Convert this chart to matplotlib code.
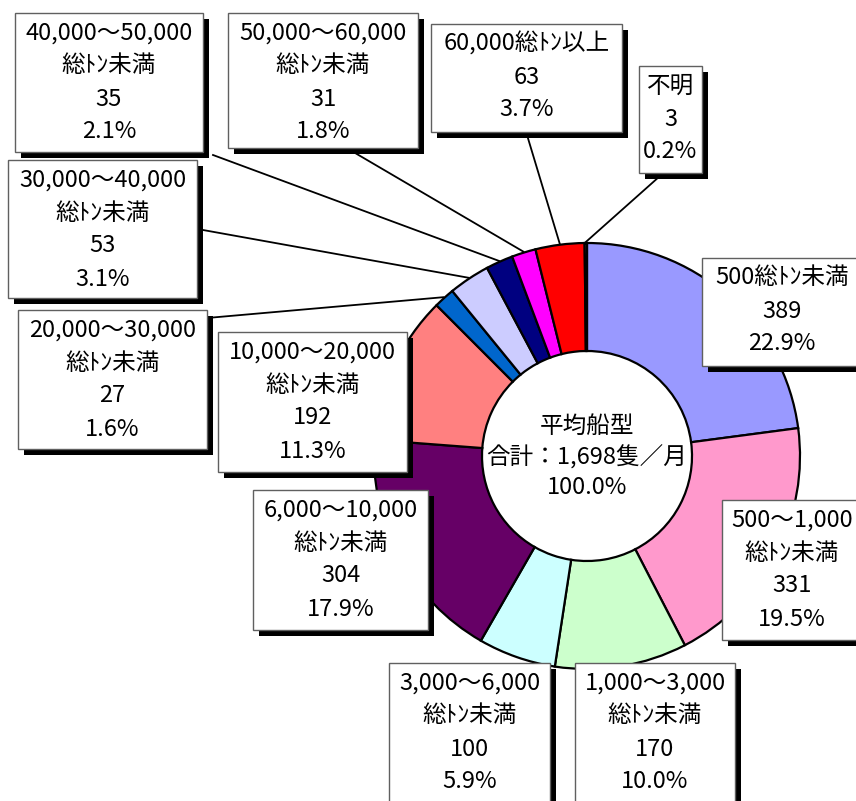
import numpy as np
import matplotlib
matplotlib.use("Agg")
import matplotlib.pyplot as plt
from matplotlib.patches import Rectangle

plt.rcParams['font.family'] = ['Noto Sans CJK JP', 'DejaVu Sans']

# 船型別の平均入港隻数（隻/月）
categories = [
    ["500総ﾄﾝ未満"],
    ["500～1,000", "総ﾄﾝ未満"],
    ["1,000～3,000", "総ﾄﾝ未満"],
    ["3,000～6,000", "総ﾄﾝ未満"],
    ["6,000～10,000", "総ﾄﾝ未満"],
    ["10,000～20,000", "総ﾄﾝ未満"],
    ["20,000～30,000", "総ﾄﾝ未満"],
    ["30,000～40,000", "総ﾄﾝ未満"],
    ["40,000～50,000", "総ﾄﾝ未満"],
    ["50,000～60,000", "総ﾄﾝ未満"],
    ["60,000総ﾄﾝ以上"],
    ["不明"],
]
values = [389, 331, 170, 100, 304, 192, 27, 53, 35, 31, 63, 3]
colors = ["#9999FF", "#FF99CC", "#CCFFCC", "#CCFFFF", "#660066", "#FF8080",
          "#0066CC", "#CCCCFF", "#000080", "#FF00FF", "#FF0000", "#A0A0A0"]
center_title = "平均船型"

W, H = 856, 801
fig = plt.figure(figsize=(W / 100, H / 100), dpi=100)
ax = fig.add_axes([0, 0, 1, 1])

# pixel-like coordinates: x to the right, py downward (converted to y = H - py)
def Y(py):
    return H - py

cx, cy_px = 587, 456
R_out, R_in = 213, 105

ax.pie(values, colors=colors, startangle=90, counterclock=False,
       radius=R_out, center=(cx, Y(cy_px)),
       wedgeprops=dict(width=R_out - R_in, edgecolor="black", linewidth=1.6))

total = sum(values)

# label boxes: (left, top, right, bottom) in pixels
boxes = [
    (702, 258, 862, 366),
    (722, 500, 862, 640),
    (575, 663, 735, 810),
    (389, 663, 550, 810),
    (253, 490, 428, 630),
    (218, 332, 407, 472),
    (18, 310, 207, 449),
    (8, 160, 197, 298),
    (15, 13, 203, 152),
    (228, 13, 418, 148),
    (431, 24, 622, 132),
    (639, 66, 702, 173),
]

# leader line start points (pixels) for the labels away from their slices
leaders = {
    6: (207, 318),
    7: (203, 230),
    8: (213, 155),
    9: (350, 150),
    10: (527, 135),
    11: (660, 176),
}

fs = 17
line_gap = 33
shadow = 6

cum = 0
for i, v in enumerate(values):
    mid = (cum + v / 2) / total * 360.0
    cum += v
    # angle measured clockwise from 12 o'clock
    ang = np.deg2rad(mid)
    if i in leaders:
        sx, sy = leaders[i]
        ex = cx + (R_out + 1) * np.sin(ang)
        ey = cy_px - (R_out + 1) * np.cos(ang)
        ax.plot([sx, ex], [Y(sy), Y(ey)], color="black", lw=1.3, zorder=2)

    l, t, r, b = boxes[i]
    ax.add_patch(Rectangle((l + shadow, Y(b + shadow)), r - l, b - t,
                           facecolor="black", edgecolor="none", zorder=3))
    ax.add_patch(Rectangle((l, Y(b)), r - l, b - t, facecolor="white",
                           edgecolor="#606060", lw=1.0, zorder=4))
    lines = list(categories[i]) + [f"{v}", f"{v / total * 100:.1f}%"]
    xc = (l + r) / 2
    for k, s in enumerate(lines):
        ax.text(xc, Y(t + 20 + k * line_gap), s, ha="center", va="center",
                fontsize=fs, color="black", zorder=5)

# centre label
center_lines = [center_title, f"合計：{total:,}隻／月", f"{100:.1f}%"]
for k, s in enumerate(center_lines):
    ax.text(cx, Y(426 + k * 31), s, ha="center", va="center", fontsize=fs,
            color="black", zorder=5)

ax.set_xlim(0, W)
ax.set_ylim(0, H)
ax.set_aspect("equal")
ax.axis("off")

fig.savefig("out.png", dpi=100, facecolor="white")
